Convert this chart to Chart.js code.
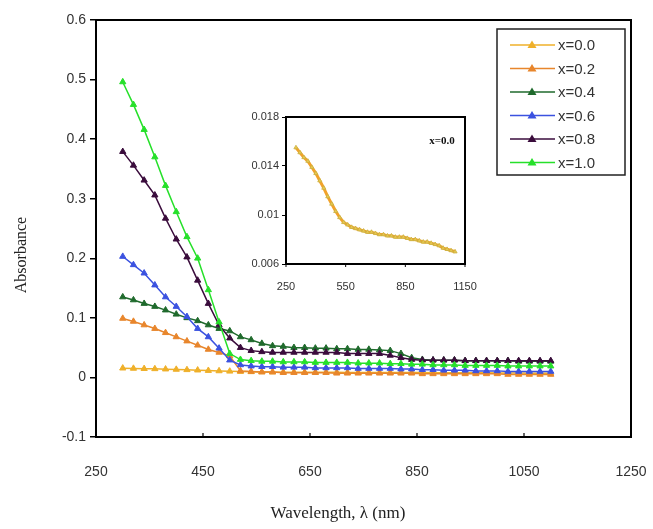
<!DOCTYPE html>
<html>
<head>
<meta charset="utf-8">
<script src="https://cdn.jsdelivr.net/npm/chart.js@4.4.0/dist/chart.umd.min.js"></script>
<style>
  html, body { margin: 0; padding: 0; background: #fff; }
  #wrap { position: relative; width: 653px; height: 529px; }
  #main { position: absolute; left: 0; top: 0; }
  #inset { position: absolute; left: 220px; top: 100px; }
</style>
</head>
<body>
<div id="wrap">
  <canvas id="main" width="653" height="529"></canvas>
  <canvas id="inset" width="260" height="200"></canvas>
</div>
<script>
// Wavelength grid (nm)
const wavelengths = [300,320,340,360,380,400,420,440,460,480,500,520,540,560,580,600,620,640,660,680,700,
  720,740,760,780,800,820,840,860,880,900,920,940,960,980,1000,1020,1040,1060,1080,1100];

// Absorbance spectra for each composition x
const abs_x00 = [0.0155,0.0151,0.0147,0.0144,0.0139,0.0134,0.0128,0.0122,0.0115,0.0109,0.0103,0.0098,0.0094,
  0.0092,0.0090,0.0089,0.0088,0.0087,0.0086,0.0086,0.0085,0.0084,0.0084,0.0083,0.0083,0.0082,0.0082,0.0082,
  0.0081,0.0080,0.0080,0.0079,0.0078,0.0078,0.0077,0.0076,0.0075,0.0073,0.0072,0.0071,0.0070];
const abs_x02 = [0.099,0.094,0.088,0.082,0.075,0.068,0.061,0.054,0.047,0.042,0.036,0.011,0.010,0.009,0.009,
  0.008,0.008,0.008,0.008,0.008,0.007,0.007,0.007,0.007,0.007,0.007,0.007,0.007,0.006,0.006,0.006,0.006,
  0.006,0.006,0.006,0.006,0.005,0.005,0.005,0.005,0.005];
const abs_x04 = [0.135,0.130,0.124,0.119,0.113,0.106,0.100,0.095,0.088,0.082,0.078,0.068,0.063,0.057,0.053,
  0.052,0.050,0.050,0.049,0.049,0.048,0.048,0.047,0.047,0.046,0.045,0.040,0.033,0.030,0.029,0.029,0.029,
  0.028,0.028,0.028,0.028,0.028,0.027,0.027,0.027,0.027];
const abs_x06 = [0.203,0.189,0.175,0.155,0.135,0.119,0.102,0.082,0.068,0.049,0.029,0.021,0.019,0.018,0.018,
  0.017,0.017,0.017,0.016,0.016,0.016,0.016,0.015,0.015,0.015,0.015,0.014,0.014,0.013,0.013,0.012,0.012,
  0.012,0.011,0.011,0.011,0.010,0.010,0.010,0.010,0.010];
const abs_x08 = [0.379,0.356,0.331,0.306,0.267,0.232,0.202,0.163,0.124,0.088,0.066,0.050,0.045,0.043,0.042,
  0.042,0.042,0.042,0.042,0.042,0.042,0.040,0.040,0.040,0.040,0.037,0.033,0.030,0.029,0.029,0.029,0.029,
  0.028,0.028,0.028,0.028,0.028,0.028,0.028,0.028,0.028];
const abs_x10 = [0.496,0.458,0.416,0.370,0.322,0.278,0.236,0.200,0.147,0.093,0.040,0.030,0.028,0.027,0.027,
  0.026,0.026,0.026,0.025,0.025,0.025,0.025,0.024,0.024,0.024,0.023,0.023,0.022,0.022,0.021,0.021,0.021,
  0.020,0.020,0.020,0.020,0.019,0.019,0.019,0.019,0.019];

const seriesLabels = ['x=0.0','x=0.2','x=0.4','x=0.6','x=0.8','x=1.0'];
const seriesValues = [abs_x00, abs_x02, abs_x04, abs_x06, abs_x08, abs_x10];
const seriesColors = ['#efb02a','#e8862c','#1f6a2c','#3b52e0','#3a0c3c','#26e02a'];

// Axis tick values
const xTicksMain = [250,450,650,850,1050,1250];
const yTicksMain = [-0.1,0,0.1,0.2,0.3,0.4,0.5,0.6];
const xTicksInset = [250,550,850,1150];
const yTicksInset = [0.006,0.010,0.014,0.018];

const toPoints = vals => wavelengths.map((w, i) => ({ x: w, y: vals[i] }));

// keep tick labels from widening the plot frame
const noOverhang = s => { s.paddingLeft = 0; s.paddingRight = 0; s.paddingTop = 0; s.paddingBottom = 0; };

const datasets = seriesLabels.map((lab, i) => ({
  label: lab,
  data: toPoints(seriesValues[i]),
  borderColor: seriesColors[i],
  backgroundColor: seriesColors[i],
  borderWidth: 1.5,
  pointStyle: 'triangle',
  pointRadius: 3.6,
  pointBorderWidth: 1,
  pointBorderColor: seriesColors[i],
  pointBackgroundColor: seriesColors[i],
  tension: 0
})).reverse();

// Frame, inward x ticks, legend and axis titles
const decorMain = {
  id: 'decorMain',
  afterDraw(chart) {
    const { ctx, chartArea: a, scales } = chart;
    ctx.save();
    ctx.strokeStyle = '#000';
    ctx.lineWidth = 2;
    ctx.strokeRect(a.left, a.top, a.right - a.left, a.bottom - a.top);
    ctx.lineWidth = 1.2;
    xTicksMain.forEach(v => {
      const px = scales.x.getPixelForValue(v);
      ctx.beginPath(); ctx.moveTo(px, a.bottom); ctx.lineTo(px, a.bottom - 4); ctx.stroke();
    });

    // legend
    const lx = 497, ly = 29, lw = 128, lh = 146;
    ctx.fillStyle = '#fff';
    ctx.fillRect(lx, ly, lw, lh);
    ctx.lineWidth = 1.5;
    ctx.strokeStyle = '#222';
    ctx.strokeRect(lx, ly, lw, lh);
    ctx.font = '15px "Liberation Sans", Arial, sans-serif';
    ctx.textBaseline = 'middle';
    ctx.textAlign = 'left';
    seriesLabels.forEach((lab, i) => {
      const y = 45 + i * 23.5;
      const c = seriesColors[i];
      ctx.strokeStyle = c; ctx.lineWidth = 1.5;
      ctx.beginPath(); ctx.moveTo(510, y); ctx.lineTo(555, y); ctx.stroke();
      ctx.fillStyle = c;
      ctx.beginPath(); ctx.moveTo(532, y - 4.5); ctx.lineTo(536.5, y + 3); ctx.lineTo(527.5, y + 3); ctx.closePath(); ctx.fill();
      ctx.fillStyle = '#333';
      ctx.fillText(lab, 558, y + 1);
    });

    // axis titles
    ctx.fillStyle = '#222';
    ctx.font = '17px "Liberation Serif", "Times New Roman", serif';
    ctx.textAlign = 'center';
    ctx.fillText('Wavelength, \u03bb (nm)', 338, 514);
    ctx.translate(22, 255);
    ctx.rotate(-Math.PI / 2);
    ctx.font = '16px "Liberation Serif", "Times New Roman", serif';
    ctx.fillText('Absorbance', 0, 0);
    ctx.restore();
  }
};

new Chart(document.getElementById('main'), {
  type: 'line',
  data: { datasets },
  options: {
    responsive: false,
    animation: false,
    layout: { padding: { top: 20, right: 22, left: 0, bottom: 0 } },
    plugins: { legend: { display: false }, tooltip: { enabled: false } },
    scales: {
      x: {
        type: 'linear', min: 250, max: 1250,
        afterFit: s => { s.height = 92; noOverhang(s); },
        afterBuildTicks: s => { s.ticks = xTicksMain.map(v => ({ value: v })); },
        grid: { display: false },
        border: { display: false },
        ticks: { color: '#333', font: { size: 14, family: '"Liberation Sans", Arial, sans-serif' }, padding: 19, maxRotation: 0,
                 callback: v => String(v) }
      },
      y: {
        type: 'linear', min: -0.1, max: 0.6,
        afterFit: s => { s.width = 96; noOverhang(s); },
        afterBuildTicks: s => { s.ticks = yTicksMain.map(v => ({ value: v })); },
        grid: { drawOnChartArea: false, drawTicks: true, tickLength: 6, color: '#000', lineWidth: 1.5 },
        border: { display: false },
        ticks: {
          color: '#333', padding: 4,
          font: { size: 14, family: '"Liberation Sans", Arial, sans-serif' },
          callback: v => String(Math.round(v * 10) / 10)
        }
      }
    }
  },
  plugins: [decorMain]
});

// Inset: x=0.0 spectrum on its own scale
const decorInset = {
  id: 'decorInset',
  afterDraw(chart) {
    const { ctx, chartArea: a, scales } = chart;
    ctx.save();
    ctx.strokeStyle = '#000';
    ctx.lineWidth = 2;
    ctx.strokeRect(a.left, a.top, a.right - a.left, a.bottom - a.top);
    ctx.lineWidth = 1;
    xTicksInset.forEach(v => {
      const px = scales.x.getPixelForValue(v);
      ctx.beginPath(); ctx.moveTo(px, a.bottom); ctx.lineTo(px, a.bottom + 3); ctx.stroke();
    });
    ctx.fillStyle = '#111';
    ctx.font = 'bold 11px "Liberation Serif", "Times New Roman", serif';
    ctx.textAlign = 'center';
    ctx.textBaseline = 'middle';
    ctx.fillText('x=0.0', 222, 41);
    ctx.restore();
  }
};

new Chart(document.getElementById('inset'), {
  type: 'line',
  data: {
    datasets: [{
      label: seriesLabels[0],
      data: toPoints(abs_x00),
      borderColor: '#f2a22a',
      borderWidth: 3,
      pointStyle: 'triangle',
      pointRadius: 2.4,
      pointBorderWidth: 0.8,
      pointBorderColor: '#c9b040',
      pointBackgroundColor: '#e9c850',
      tension: 0
    }]
  },
  options: {
    responsive: false,
    animation: false,
    layout: { padding: { top: 17, right: 15, left: 0, bottom: 0 } },
    plugins: { legend: { display: false }, tooltip: { enabled: false } },
    scales: {
      x: {
        type: 'linear', min: 250, max: 1150,
        afterFit: s => { s.height = 36; noOverhang(s); },
        afterBuildTicks: s => { s.ticks = xTicksInset.map(v => ({ value: v })); },
        grid: { display: false },
        border: { display: false },
        ticks: { color: '#333', font: { size: 11, family: '"Liberation Sans", Arial, sans-serif' }, padding: 8, maxRotation: 0,
                 callback: v => String(v) }
      },
      y: {
        type: 'linear', min: 0.006, max: 0.018,
        afterFit: s => { s.width = 66; noOverhang(s); },
        afterBuildTicks: s => { s.ticks = yTicksInset.map(v => ({ value: v })); },
        grid: { drawOnChartArea: false, drawTicks: true, tickLength: 4, color: '#000', lineWidth: 1 },
        border: { display: false },
        ticks: {
          color: '#333', padding: 3,
          font: { size: 11, family: '"Liberation Sans", Arial, sans-serif' },
          callback: v => String(parseFloat(v.toFixed(3)))
        }
      }
    }
  },
  plugins: [decorInset]
});
</script>
</body>
</html>
